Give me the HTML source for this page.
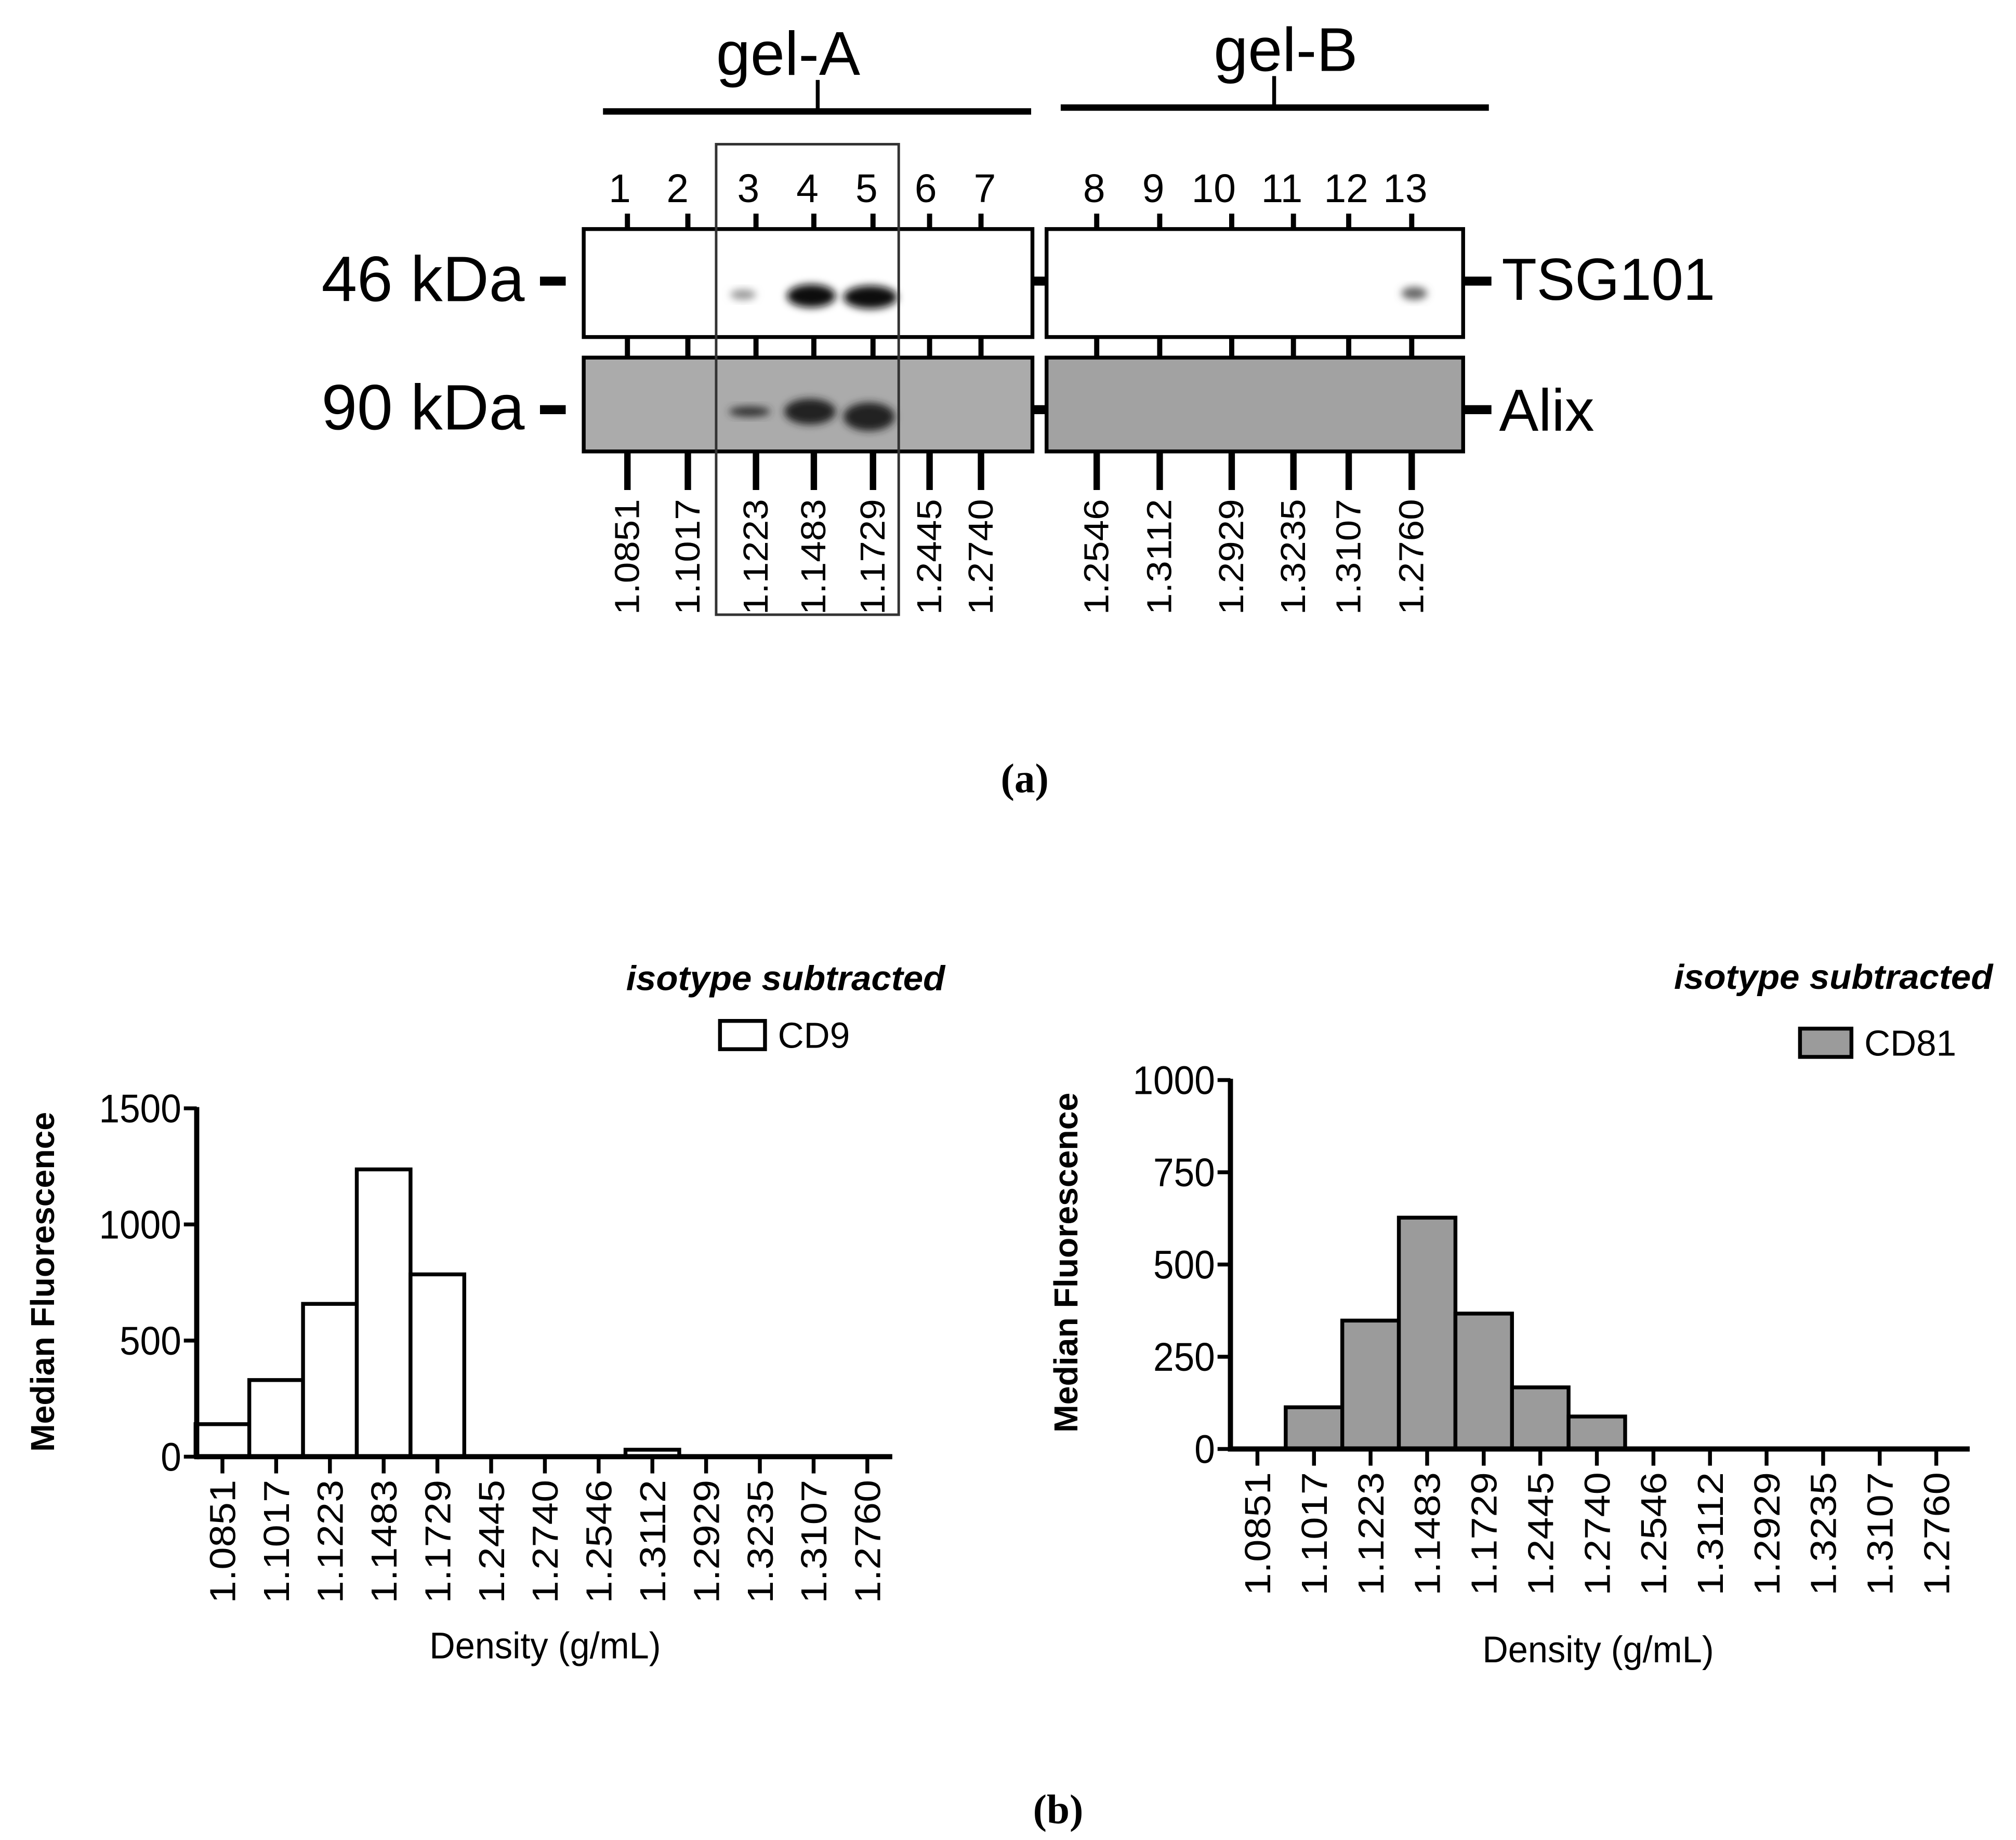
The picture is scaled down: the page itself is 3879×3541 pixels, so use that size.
<!DOCTYPE html>
<html><head><meta charset="utf-8"><style>
html,body{margin:0;padding:0;background:#fff}
svg{display:block;font-family:"Liberation Sans",sans-serif}
</style></head><body>
<svg id="s" width="3879" height="3541" viewBox="0 0 1568 1431" xmlns="http://www.w3.org/2000/svg">
<defs>
<filter id="blur" x="-50%" y="-50%" width="200%" height="200%"><feGaussianBlur stdDeviation="3"/></filter>
</defs>
<g id="blot">
<text x="613" y="58" font-size="48" text-anchor="middle">gel-A</text>
<rect x="469" y="84" width="333" height="5" fill="#000"/>
<rect x="634.5" y="62" width="3" height="24" fill="#000"/>
<text x="1000" y="55" font-size="48" text-anchor="middle">gel-B</text>
<rect x="825" y="81" width="333" height="5" fill="#000"/>
<rect x="989.5" y="59" width="3" height="24" fill="#000"/>
<g id="lanes"></g>
<rect x="454" y="178" width="349" height="84" fill="#fff" stroke="#000" stroke-width="3"/>
<rect x="814" y="178" width="324" height="84" fill="#fff" stroke="#000" stroke-width="3"/>
<rect x="454" y="278" width="349" height="73" fill="#ababab" stroke="#000" stroke-width="3"/>
<rect x="814" y="278" width="324" height="73" fill="#a2a2a2" stroke="#000" stroke-width="3"/>
<g>
<ellipse cx="578" cy="229" rx="10" ry="4" fill="#999" filter="url(#blur)"/>
<ellipse cx="631" cy="230" rx="19" ry="9" fill="#111" filter="url(#blur)"/>
<ellipse cx="677" cy="231" rx="21" ry="9" fill="#111" filter="url(#blur)"/>
<ellipse cx="1100" cy="228" rx="10" ry="5" fill="#666" filter="url(#blur)"/>
</g>
<g>
<ellipse cx="583" cy="320" rx="16" ry="4" fill="#333" filter="url(#blur)"/>
<ellipse cx="630" cy="320" rx="20" ry="10" fill="#222" filter="url(#blur)"/>
<ellipse cx="676" cy="324" rx="20" ry="11" fill="#222" filter="url(#blur)"/>
</g>
<rect x="557" y="112" width="142" height="366" fill="none" stroke="#333" stroke-width="2"/>
<text x="408" y="234" font-size="50" text-anchor="end" textLength="158" lengthAdjust="spacingAndGlyphs">46 kDa</text>
<rect x="420" y="215" width="20" height="7" fill="#000"/>
<rect x="803" y="215" width="11" height="7" fill="#000"/>
<rect x="1138" y="215" width="22" height="7" fill="#000"/>
<text x="1168" y="233" font-size="46" textLength="166" lengthAdjust="spacingAndGlyphs">TSG101</text>
<text x="408" y="334" font-size="50" text-anchor="end" textLength="158" lengthAdjust="spacingAndGlyphs">90 kDa</text>
<rect x="420" y="315" width="20" height="7" fill="#000"/>
<rect x="803" y="315" width="11" height="7" fill="#000"/>
<rect x="1138" y="315" width="22" height="7" fill="#000"/>
<text x="1166" y="335" font-size="46" textLength="74" lengthAdjust="spacingAndGlyphs">Alix</text>
<text x="797" y="616" font-size="32" font-weight="bold" text-anchor="middle" font-family="Liberation Serif, serif">(a)</text>
</g>
<g id="c1"></g>
<g id="c2"></g>
<text x="823" y="1418" font-size="32" font-weight="bold" text-anchor="middle" font-family="Liberation Serif, serif">(b)</text>
</svg>
<script>
const NS="http://www.w3.org/2000/svg";
const laneNumbers=["1","2","3","4","5","6","7","8","9","10","11","12","13"];
const laneDensities=["1.0851","1.1017","1.1223","1.1483","1.1729","1.2445","1.2740","1.2546","1.3112","1.2929","1.3235","1.3107","1.2760"];
const categories=["1.0851","1.1017","1.1223","1.1483","1.1729","1.2445","1.2740","1.2546","1.3112","1.2929","1.3235","1.3107","1.2760"];
const cd9Values=[140,330,658,1237,785,0,0,0,30,0,0,0,0];
const cd81Values=[0,113,348,627,367,167,88,0,0,0,0,0,0];
const cd9Ticks=[0,500,1000,1500];
const cd81Ticks=[0,250,500,750,1000];
function mk(p,tag,a){const e=document.createElementNS(NS,tag);for(const k in a)e.setAttribute(k,a[k]);p.appendChild(e);return e;}
const laneNumX=[482,527,582,628,674,720,766,851,897,944,997,1047,1093];
const laneTickX=[488,535,588,633,679,723,763,853,902,958,1006,1049,1098];
const lg=document.getElementById('lanes');
laneNumbers.forEach((n,i)=>{
  const t=mk(lg,'text',{x:laneNumX[i],y:157,'font-size':31,'text-anchor':'middle'});t.textContent=n;
  
  
  const x=laneTickX[i];
  const a=mk(lg,'rect',{x:x-2,y:166,width:4,height:12,fill:'#000'});
  
  
  const b=mk(lg,'rect',{x:x-2,y:262,width:4,height:16,fill:'#000'});
  
  
  const c=mk(lg,'rect',{x:x-2.5,y:351,width:5,height:30,fill:'#000'});
  
  
  const d=mk(lg,'text',{x:0,y:0,'font-size':27,'text-anchor':'end',textLength:90,lengthAdjust:'spacingAndGlyphs',transform:`translate(${x+9},388) rotate(-90)`});
  d.textContent=laneDensities[i];
  
  
});
function chart(id,o){
  const g=document.getElementById(id);
  const y=v=>o.y0-(v/o.max)*(o.y0-o.y1);
  const x=i=>o.xa+i*o.step;
  const bw=o.step;
  o.vals.forEach((v,i)=>{
    if(v<=0)return;
    const r=mk(g,'rect',{x:x(i)-bw/2,y:y(v),width:bw,height:o.y0-y(v),fill:o.fill,stroke:'#000','stroke-width':3});
    
    
  });
  const ax=mk(g,'line',{x1:o.ax,y1:o.y1-1,x2:o.ax,y2:o.y0+2,stroke:'#000','stroke-width':4});
  
  
  const xx=mk(g,'line',{x1:o.ax,y1:o.y0,x2:o.xe,y2:o.y0,stroke:'#000','stroke-width':4});
  
  
  o.ticks.forEach(t=>{
    const l=mk(g,'line',{x1:o.ax-10,y1:y(t),x2:o.ax,y2:y(t),stroke:'#000','stroke-width':3});
    
    
    const tx=mk(g,'text',{x:o.ax-12,y:y(t)+11,'font-size':31,'text-anchor':'end',textLength:String(t).length*16,lengthAdjust:'spacingAndGlyphs'});
    tx.textContent=t;
    
    
  });
  categories.forEach((c,i)=>{
    const l=mk(g,'line',{x1:x(i),y1:o.y0,x2:x(i),y2:o.y0+13,stroke:'#000','stroke-width':3});
    
    
    const tx=mk(g,'text',{x:0,y:0,'font-size':28,'text-anchor':'end',textLength:96,lengthAdjust:'spacingAndGlyphs',transform:`translate(${x(i)+10},${o.y0+18}) rotate(-90)`});
    tx.textContent=c;
    
    
  });
  const xt=mk(g,'text',{x:o.xtX,y:o.xtY,'font-size':29,'text-anchor':'middle',textLength:180,lengthAdjust:'spacingAndGlyphs'});xt.textContent='Density (g/mL)';
  
  
  const yt=mk(g,'text',{x:0,y:0,'font-size':26,'font-weight':'bold','text-anchor':'middle',transform:`translate(${o.ytX},${o.ytY}) rotate(-90)`});yt.textContent='Median Fluorescence';
  
  
  const it=mk(g,'text',{x:o.itX,y:o.itY,'font-size':27,'font-weight':'bold','font-style':'italic','text-anchor':'end',textLength:248,lengthAdjust:'spacingAndGlyphs'});it.textContent='isotype subtracted';
  
  
  const lb=mk(g,'rect',{x:o.lx,y:o.ly,width:o.lw,height:22,fill:o.fill,stroke:'#000','stroke-width':3});
  
  
  const lt=mk(g,'text',{x:o.lx+o.lw+10,y:o.ly+21,'font-size':28});lt.textContent=o.name;
  
  
}
chart('c1',{vals:cd9Values,ticks:cd9Ticks,max:1500,y0:1133,y1:862,ax:153,xe:694,xa:173,step:41.8,fill:'#fff',
  xtX:424,xtY:1290,ytX:42,ytY:997,itX:735,itY:770,lx:560,ly:794,lw:35,name:'CD9'});
chart('c2',{vals:cd81Values,ticks:cd81Ticks,max:1000,y0:1127,y1:840,ax:957,xe:1532,xa:978,step:44,fill:'#9b9b9b',
  xtX:1243,xtY:1293,ytX:838,ytY:982,itX:1550,itY:769,lx:1400,ly:800,lw:40,name:'CD81'});
</script>
</body></html>
